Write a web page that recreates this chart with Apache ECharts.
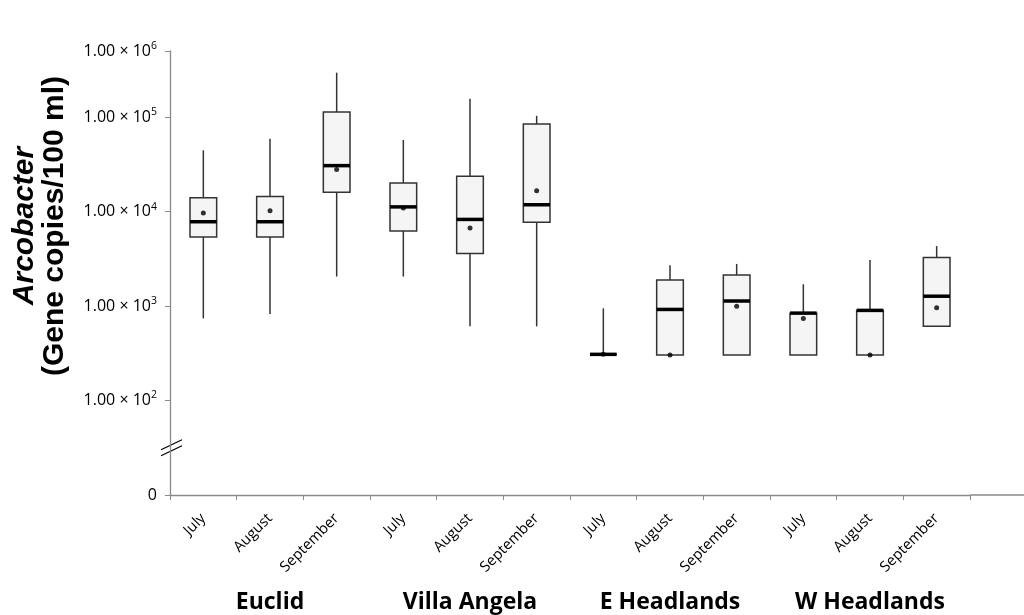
<!DOCTYPE html>
<html><head><meta charset="utf-8">
<script src="https://cdn.jsdelivr.net/npm/echarts@6/dist/echarts.min.js"></script>
<style>html,body{margin:0;padding:0;background:#fff}#c{width:1024px;height:615px}</style>
</head><body><div id="c"></div>
<script>
const months = ['July', 'August', 'September'];
const sites = ['Euclid', 'Villa Angela', 'E Headlands', 'W Headlands'];
const categories = ['July','August','September','July','August','September','July','August','September','July','August','September'];
const whiskerMin = [740, 822, 2050, 2050, 609, 609, 308, 303, 303, 303, 303, 609];
const q1 =         [5370, 5370, 16000, 6210, 3590, 7680, 308, 303, 303, 303, 303, 609];
const median =     [7800, 7800, 30600, 11200, 8250, 11800, 308, 920, 1130, 841, 899, 1270];
const q3 =         [14000, 14400, 113000, 20100, 23600, 84300, 308, 1890, 2130, 841, 899, 3260];
const whiskerMax = [44500, 59000, 295000, 57200, 156000, 103000, 944, 2700, 2790, 1700, 3070, 4310];
const mean =       [9620, 10200, 27800, 10900, 6680, 16600, 308, 303, 997, 740, 303, 957];
const yMin = 10, yMax = 500000;
const yTickExponents = {10: null, 100: '2', 1000: '3', 10000: '4', 100000: '5', 500000: '6'};

const FONT = 'Open Sans';
const boxData = q1.map((v, i) => [i, whiskerMin[i], q1[i], median[i], q3[i], whiskerMax[i]]);
const meanData = mean.map((v, i) => [i, v]);

const chart = echarts.init(document.getElementById('c'), null, {renderer: 'canvas'});
const axisColor = '#8a8a8a';

function yLabel(v) {
  const key = Math.round(v);
  if (Math.abs(v - 10) < 1e-6) return '{a|0}';
  let exp = yTickExponents[key];
  if (exp === undefined) exp = String(Math.round(Math.log10(v)));
  return '{a|1.00 × 10}{s|' + exp + '}';
}

chart.setOption({
  animation: false,
  backgroundColor: '#ffffff',
  grid: {left: 170, right: 54, top: 51, bottom: 120, containLabel: false},
  xAxis: {
    type: 'category', data: categories, boundaryGap: true,
    axisLine: {lineStyle: {color: axisColor, width: 1.3}},
    axisTick: {show: true, length: 5, lineStyle: {color: axisColor}},
    axisLabel: {interval: 0, rotate: 45, margin: 21, fontFamily: FONT, fontSize: 14.8, color: '#000'},
    splitLine: {show: false}
  },
  yAxis: {
    type: 'log', logBase: 10, min: yMin, max: yMax,
    axisLine: {show: true, lineStyle: {color: axisColor, width: 1.3}},
    axisTick: {show: true, length: 5, lineStyle: {color: axisColor}},
    splitLine: {show: false},
    minorTick: {show: false},
    axisLabel: {
      margin: 13, color: '#000', showMaxLabel: true, showMinLabel: true,
      formatter: yLabel,
      rich: {
        a: {fontFamily: FONT, fontSize: 16, color: '#000'},
        s: {fontFamily: FONT, fontSize: 10.5, color: '#000', padding: [0, 0, 10, 0]}
      }
    }
  },
  series: [
    {
      type: 'custom', data: boxData, z: 2,
      encode: {x: 0, y: [1, 2, 3, 4, 5]},
      renderItem: function (params, api) {
        const x = api.value(0);
        const pMin = api.coord([x, api.value(1)]);
        const pQ1 = api.coord([x, api.value(2)]);
        const pMed = api.coord([x, api.value(3)]);
        const pQ3 = api.coord([x, api.value(4)]);
        const pMax = api.coord([x, api.value(5)]);
        const bw = api.size([1, 1])[0] * 0.4;
        const cx = pMed[0];
        const lineStyle = {stroke: '#333', lineWidth: 1.5};
        return {
          type: 'group',
          children: [
            {type: 'line', shape: {x1: cx, y1: pMax[1], x2: cx, y2: pQ3[1]}, style: lineStyle},
            {type: 'line', shape: {x1: cx, y1: pQ1[1], x2: cx, y2: pMin[1]}, style: lineStyle},
            {type: 'rect', shape: {x: cx - bw / 2, y: pQ3[1], width: bw, height: pQ1[1] - pQ3[1]},
              style: {fill: '#f5f5f5', stroke: '#333', lineWidth: 1.5}},
            {type: 'line', shape: {x1: cx - bw / 2, y1: pMed[1], x2: cx + bw / 2, y2: pMed[1]},
              style: {stroke: '#000', lineWidth: 3.5}}
          ]
        };
      }
    },
    {
      type: 'scatter', data: meanData, symbol: 'circle', symbolSize: 5, z: 3,
      itemStyle: {color: '#000'}
    }
  ]
});

// decorations placed from axis positions
const extras = [];
sites.forEach((s, g) => {
  const p = chart.convertToPixel({gridIndex: 0}, [g * 3 + 1, 1000]);
  extras.push({type: 'text', x: p[0], y: 602, style: {text: s, fontFamily: FONT, fontWeight: 'bold', fontSize: 23, fill: '#000', align: 'center', verticalAlign: 'middle'}});
});
const b0 = chart.convertToPixel({gridIndex: 0}, [0, 31.6]);
const b1 = chart.convertToPixel({gridIndex: 0}, [1, 31.6]);
const band = b1[0] - b0[0];
const ax = b0[0] - band / 2;
const by = b0[1];
extras.push({type: 'line', shape: {x1: ax - 9, y1: by + 8, x2: ax + 12, y2: by - 2}, style: {stroke: '#000', lineWidth: 1.2}});
extras.push({type: 'line', shape: {x1: ax - 9, y1: by + 2, x2: ax + 12, y2: by - 8}, style: {stroke: '#000', lineWidth: 1.2}});
// x axis line continues past the last category, off the right edge
const xEnd = chart.convertToPixel({gridIndex: 0}, [categories.length - 1, 10]);
const axisRight = xEnd[0] + band / 2;
extras.push({type: 'line', shape: {x1: axisRight, y1: xEnd[1], x2: 1024, y2: xEnd[1]}, style: {stroke: axisColor, lineWidth: 1.3}});
extras.push({
  type: 'text', x: 40, y: 226, rotation: Math.PI / 2,
  style: {
    text: '{i|Arcobacter}\n{b|(Gene copies/100 ml)}',
    align: 'center', verticalAlign: 'middle',
    rich: {
      i: {fontFamily: 'Liberation Sans', fontWeight: 'bold', fontStyle: 'italic', fontSize: 30, lineHeight: 30, fill: '#000', align: 'center'},
      b: {fontFamily: 'Liberation Sans', fontWeight: 'bold', fontSize: 30, lineHeight: 30, fill: '#000', align: 'center'}
    }
  }
});
chart.setOption({graphic: extras});
</script></body></html>
